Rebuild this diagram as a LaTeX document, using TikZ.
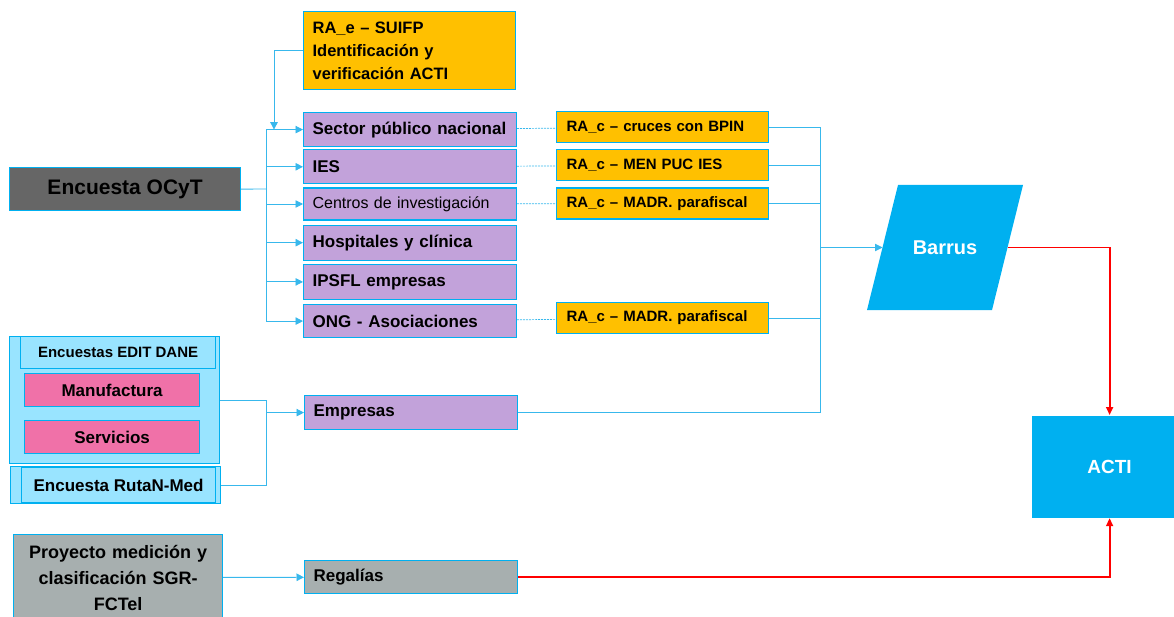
\documentclass[tikz,border=0pt]{standalone}
\usepackage{fontspec}
\setmainfont{Liberation Sans}
\usepackage{tikz}
\usetikzlibrary{arrows.meta, positioning, calc}
\definecolor{ocytcyan}{HTML}{00B0F0}
\definecolor{ocytline}{HTML}{38B8EC}
\definecolor{ocytpurple}{HTML}{C2A2DA}
\definecolor{ocytorange}{HTML}{FFC000}
\definecolor{ocytpink}{HTML}{F071A8}
\definecolor{ocytsky}{HTML}{99E4FF}
\definecolor{ocytgray}{HTML}{A7AFAF}
\definecolor{ocytdark}{HTML}{666666}

\begin{document}
\begin{tikzpicture}[x=1pt, y=-1pt,
    box/.style={draw=ocytcyan, line width=1.2pt, inner sep=0pt, anchor=north west, font=\fontsize{17}{20}\selectfont\bfseries},
    sector/.style={box, fill=ocytpurple, minimum width=213pt, text width=195pt, align=left},
    cruce/.style={box, fill=ocytorange, minimum width=212pt, minimum height=31pt, text width=192pt, align=left, font=\fontsize{15}{18}\selectfont\bfseries},
    rubro/.style={box, fill=ocytpink, minimum width=175pt, minimum height=33pt},
    blob/.style={text=white, inner sep=0pt, font=\fontsize{20}{24}\selectfont\bfseries},
    link/.style={ocytline, line width=0.9pt},
    feed/.style={link, -{Triangle[length=7.5pt, width=7.5pt]}},
    tie/.style={link, line width=0.7pt, dash pattern=on 2pt off 1pt},
    final/.style={red, line width=1.8pt, -{Triangle[length=8pt, width=7pt]}}
  ]
  \useasboundingbox (0,0) rectangle (1174,617);

  % fuentes de informacion
  \node (ocyt) [box, fill=ocytdark, minimum width=231pt, minimum height=43pt, font=\fontsize{21}{24}\selectfont\bfseries] at (9,167) {Encuesta OCyT};
  \node (rae) [box, fill=ocytorange, minimum width=212pt, minimum height=78pt, text width=194pt, align=left, font=\fontsize{16.5}{23}\selectfont\bfseries] at (303,11) {RA\_e – SUIFP\\Identificación y\\verificación ACTI};

  % sectores
  \node (sector) [sector, minimum height=34pt] at (303,112) {Sector público nacional};
  \node (ies) [sector, minimum height=34pt, below=2pt of sector] {IES};
  \node (centros) [sector, minimum height=32pt, below=3pt of ies, font=\fontsize{16}{19}\selectfont] {Centros de investigación};
  \node (hosp) [sector, minimum height=35pt, below=4pt of centros] {Hospitales y clínica};
  \node (ipsfl) [sector, minimum height=35pt, below=3pt of hosp] {IPSFL empresas};
  \node (ong) [sector, minimum height=33pt, below=4pt of ipsfl] {ONG - Asociaciones};
  \node (empresas) [sector, minimum height=34pt] at (304,395) {Empresas};
  \node (regalias) [sector, fill=ocytgray, minimum height=33pt] at (304,560) {Regalías};

  % registros administrativos
  \node (bpin) [cruce] at (556,111) {RA\_c – cruces con BPIN};
  \node (men) [cruce, below=6pt of bpin] {RA\_c – MEN PUC IES};
  \node (madr) [cruce, below=6pt of men] {RA\_c – MADR. parafiscal};
  \node (madrb) [cruce] at (556,302) {RA\_c – MADR. parafiscal};

  % encuestas de empresas
  \node (edit) [box, fill=ocytsky, minimum width=210pt, minimum height=127pt] at (9,336) {};
  \node (dane) [box, fill=ocytsky, minimum width=195pt, minimum height=32pt, font=\fontsize{15}{18}\selectfont\bfseries] at (20,336) {Encuestas EDIT DANE};
  \node (manu) [rubro] at (24,373) {Manufactura};
  \node (serv) [rubro, below=13pt of manu] {Servicios};
  \node (rutan) [box, fill=ocytsky, minimum width=210pt, minimum height=37pt] at (10,466) {};
  \node (rutanin) [box, fill=ocytsky, minimum width=194pt, minimum height=35pt] at (21,467) {Encuesta RutaN-Med};
  \node (proyecto) [box, fill=ocytgray, minimum width=209pt, minimum height=86pt, text width=195pt, align=center, font=\fontsize{18}{26}\selectfont\bfseries] at (13,534) {Proyecto medición y\\clasificación SGR-\\FCTel};

  % resultado
  \fill[ocytcyan] (867,310) -- (898,185) -- (1023,185) -- (992,310) -- cycle;
  \node (barrus) [blob] at (945,247.5) {Barrus};
  \coordinate (barrusin) at (882.5,247.5);
  \coordinate (barrusout) at (1007.5,247.5);
  \node (acti) [box, draw=none, fill=ocytcyan, text=white, minimum width=156pt, minimum height=102pt, font=\fontsize{19}{22}\selectfont\bfseries] at (1031,415) {ACTI};

  % OCyT a sectores
  \coordinate (split) at (266,189);
  \draw[link] (ocyt.east) -- (split);
  \draw[link] (split |- sector) -- (split |- ong);
  \foreach \s in {sector, ies, centros, hosp, ipsfl, ong}
    \draw[feed] (split |- \s) -- (\s);
  \coordinate (drop) at (274,0);
  \draw[feed] (rae.west) -| (drop |- sector.west);

  % sectores a registros
  \draw[tie] (sector) -- (bpin);
  \draw[tie] (ies) -- (men);
  \draw[tie] (centros) -- (madr);
  \draw[tie] (ong) -- (madrb);

  % registros a Barrus
  \coordinate (merge) at (820,247.5);
  \draw[link] (bpin.east) -| (merge) |- (empresas.east);
  \foreach \r in {men, madr, madrb}
    \draw[link] (\r.east) -- (merge |- \r.east);
  \draw[feed] (merge) -- (barrusin);

  % encuestas a empresas
  \coordinate (join) at (266,412);
  \draw[link] (edit.east) -| (join |- rutan.east) -- (rutan.east);
  \draw[feed] (join |- empresas) -- (empresas);
  \draw[feed] (proyecto) -- (regalias);

  % hacia ACTI
  \draw[final] (barrusout) -| (acti.north);
  \draw[final] (regalias.east) -| (acti.south);
\end{tikzpicture}
\end{document}
